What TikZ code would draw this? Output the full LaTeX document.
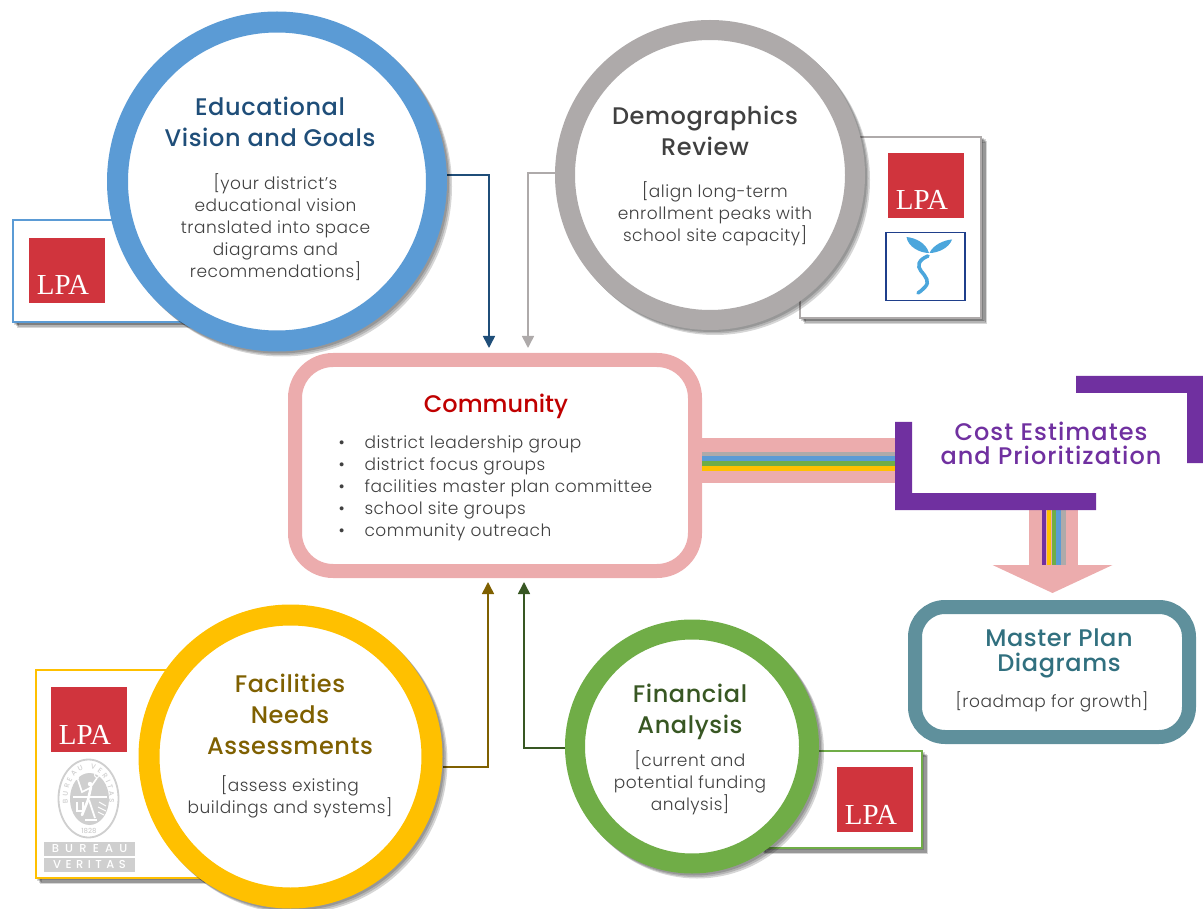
\documentclass[tikz,border=0pt]{standalone}
\usepackage{fontspec}
\setmainfont{Poppins Light}[LetterSpace=3]
\newfontfamily\headfont{Poppins Medium}[LetterSpace=2.5]
\newfontfamily\plainheadfont{Poppins Medium}
\newfontfamily\costfont{Poppins Medium}[LetterSpace=4.4]
\newfontfamily\logofont{Liberation Serif}
\usetikzlibrary{arrows.meta,shadows,shapes.geometric,decorations.text}
\definecolor{ringblue}{HTML}{5B9BD5}
\definecolor{ringgray}{HTML}{AEAAAA}
\definecolor{ringyellow}{HTML}{FFC000}
\definecolor{ringgreen}{HTML}{70AD47}
\definecolor{ringpink}{HTML}{ECACAD}
\definecolor{ringteal}{HTML}{5F909C}
\definecolor{headblue}{HTML}{1F4E79}
\definecolor{headgray}{HTML}{404040}
\definecolor{headyellow}{HTML}{7F6000}
\definecolor{headgreen}{HTML}{385723}
\definecolor{headred}{HTML}{C00000}
\definecolor{headteal}{HTML}{31707F}
\definecolor{costpurple}{HTML}{7030A0}
\definecolor{lpared}{HTML}{D0343D}
\definecolor{sproutblue}{HTML}{4BA6DC}
\definecolor{sproutbox}{HTML}{1F3F8B}
\definecolor{sealgray}{HTML}{CFCFCF}
\tikzset{
  softshadow/.style={
    drop shadow={shadow xshift=5pt,shadow yshift=-5pt,draw=black,fill=black,opacity=.16},
    drop shadow={shadow xshift=3.5pt,shadow yshift=-3.5pt,draw=black,fill=black,opacity=.16},
    drop shadow={shadow xshift=2pt,shadow yshift=-2pt,draw=black,fill=black,opacity=.16}},
  ring/.style={circle,fill=white,line width=21pt,outer sep=0pt,inner sep=0pt,softshadow},
  card/.style={rectangle,fill=white,line width=2pt,outer sep=0pt,inner sep=0pt,softshadow},
  panel/.style={rectangle,rounded corners=#1,fill=white,line width=14pt,outer sep=0pt,inner sep=0pt},
  headtext/.style={align=center,font=\headfont\fontsize{24}{31}\selectfont},
  bodytext/.style={align=center,text=headgray,font=\fontsize{17}{22}\selectfont},
  lpabox/.style={rectangle,fill=lpared,text=white,minimum width=76pt,inner sep=0pt,outer sep=0pt,
    text height=57pt,text depth=8pt,font=\logofont\fontsize{29}{29}\selectfont,execute at end node={\kern8pt}},
  feed/.style={line width=1.5pt,-{Triangle[width=12pt,length=12pt]}},
  pipe/.style={line width=#1,ringpink},
  stripe/.style={line width=5pt},
  vstripe/.style={line width=4.8pt},
  bureaubar/.style={rectangle,fill=sealgray,text=white,minimum width=91pt,minimum height=14pt,inner sep=0pt,
    font=\plainheadfont\fontsize{11.5}{11.5}\selectfont}
}
\begin{document}
\begin{tikzpicture}[x=1pt,y=-1pt]
\useasboundingbox (0,0) rectangle (1203,909);

\node[card,draw=ringblue,minimum width=190pt,minimum height=102pt] (visioncard) at (108,271) {};
\node[card,draw=ringgray,minimum width=181pt,minimum height=181pt] (democard) at (890.5,227.5) {};
\node[card,draw=ringyellow,minimum width=164pt,minimum height=208pt] (needscard) at (118,774) {};
\node[card,draw=ringgreen,minimum width=162pt,minimum height=97pt] (financecard) at (841,799.5) {};

\node[lpabox] (lpavision) at (67,270.5) {LPA};
\node[lpabox] (lpademo) at (926,185.5) {LPA};
\node[lpabox] (lpaneeds) at (89,719.5) {LPA};
\node[lpabox] (lpafinance) at (875,799.5) {LPA};

\node[rectangle,draw=sproutbox,line width=1.6pt,minimum width=79pt,minimum height=68pt,outer sep=0pt] (sproutlogo) at (925.5,266.5) {};
\fill[sproutblue] (929,253) .. controls (920,253) and (908,247) .. (906.5,237) .. controls (916,238) and (926,243) .. (929,253);
\fill[sproutblue] (929.5,253) .. controls (933,245) and (944,240) .. (952,239.5) .. controls (949,248) and (938,253) .. (929.5,253);
\draw[sproutblue,line width=3.6pt,line cap=round] (928,256) .. controls (918,260) and (917,266) .. (921,271) .. controls (926,277) and (930,282) .. (925,287) .. controls (922,290) and (920,292) .. (918,293);

\node[ellipse,draw=sealgray,line width=1.8pt,minimum width=60pt,minimum height=78pt,inner sep=0pt] (sealrim) at (88.5,798.5) {};
\node[ellipse,fill=sealgray,minimum width=39pt,minimum height=52pt,inner sep=0pt] (sealcore) at (89.5,799) {};
\draw[white,line width=1.2pt] (73,797) -- (107,797);
\draw[white,line width=2.6pt,line cap=round] (91,787) -- (88,800) -- (82,815);
\draw[white,line width=1.6pt,line cap=round] (78,780) -- (82,792) -- (90,788) -- (97,778);
\draw[white,line width=1.8pt] (89,800) -- (95,818);
\draw[white,line width=1pt] (97,775) circle (2.5pt);
\fill[white] (90,784) circle (2.2pt);
\fill[white] (77,778) circle (2pt);
\draw[white,line width=1.6pt] (77,802) -- (77,811) -- (83,811) -- (83,802);
\draw[white,line width=1pt] (99,802) -- (106,806) (98,807) -- (106,811) (98,812) -- (104,815);
\draw[white,line width=1.4pt] (85,820) -- (97,820);
\path[decorate,decoration={text along path,text align={fit to path},text color=sealgray,
  text={|\plainheadfont\fontsize{7}{7}\selectfont|BUREAU VERITAS}}]
  (68,803) .. controls (66,785) and (75,769) .. (88.5,769) .. controls (102,769) and (111,785) .. (109,803);
\node[text=sealgray,font=\plainheadfont\fontsize{7}{7}\selectfont,inner sep=0pt] (sealyear) at (89,831) {1828};

\node[bureaubar] (bureautop) at (89.5,849) {B\hspace{6.2pt}U\hspace{6.2pt}R\hspace{6.2pt}E\hspace{6.2pt}A\hspace{6.2pt}U};
\node[bureaubar] (bureaubottom) at (89.5,864.5) {V\hspace{4.5pt}E\hspace{4.5pt}R\hspace{4.5pt}I\hspace{4.5pt}T\hspace{4.5pt}A\hspace{4.5pt}S};

\coordinate (visionend) at (489,348);
\coordinate (demoend) at (528,348);
\coordinate (needsend) at (488,582);
\coordinate (financeend) at (524,582);

\draw[feed,headblue] (447,175) -| (visionend);
\draw[feed,ringgray] (555,173) -| (demoend);
\draw[feed,headyellow] (443,767) -| (needsend);
\draw[feed,headgreen] (565,748) -| (financeend);

\node[ring,draw=ringblue,minimum size=319pt] (vision) at (277,181.5) {};
\node[ring,draw=ringgray,line width=20pt,minimum size=290pt] (demo) at (710,175) {};
\node[ring,draw=ringyellow,minimum size=283pt] (needs) at (290.5,756.5) {};
\node[ring,draw=ringgreen,line width=20pt,minimum size=234pt] (finance) at (692,746.5) {};

\node[panel=38pt,draw=ringpink,minimum width=400pt,minimum height=211pt] (community) at (495,465.5) {};
\node[panel=30pt,draw=ringteal,minimum width=274pt,minimum height=130pt] (masterplan) at (1052,672) {};

\coordinate (pipeend) at (895,460.5);
\coordinate (pipedown) at (1053.5,565);
\draw[pipe=45pt] (community.east |- pipeend) -- (pipeend);
\draw[pipe=48.5pt] (1053.5,510) -- (pipedown);
\fill[ringpink] (992.5,565) -- (1112.5,565) -- (1052.5,593) -- cycle;

\draw[stripe,ringgray] (702,454) -- (895,454);
\draw[stripe,ringblue] (702,458.5) -- (895,458.5);
\draw[stripe,ringgreen] (702,463.5) -- (895,463.5);
\draw[stripe,ringyellow] (702,468.5) -- (895,468.5);

\draw[vstripe,costpurple] (1044,510) -- (1044,565);
\draw[vstripe,ringyellow] (1049,510) -- (1049,565);
\draw[vstripe,ringgreen] (1054,510) -- (1054,565);
\draw[vstripe,ringblue] (1058.7,510) -- (1058.7,565);
\draw[vstripe,ringgray] (1063.4,510) -- (1063.4,565);

\fill[costpurple] (895,422) -- (912,422) -- (912,493) -- (1096,493) -- (1096,510) -- (895,510) -- cycle;
\fill[costpurple] (1076,376) -- (1203,376) -- (1203,463) -- (1187,463) -- (1187,393) -- (1076,393) -- cycle;

\node[headtext,text=headblue] (visionhead) at (270,122) {Educational\\Vision and Goals};
\node[bodytext] (visionbody) at (275.5,227) {[your district's\\educational vision\\translated into space\\diagrams and\\recommendations]};
\node[headtext,text=headgray] (demohead) at (705,131) {Demographics\\Review};
\node[bodytext] (demobody) at (715,214) {[align long-term\\enrollment peaks with\\school site capacity]};
\node[headtext,text=headyellow] (needshead) at (290,714) {Facilities\\Needs\\Assessments};
\node[bodytext] (needsbody) at (290,797) {[assess existing\\buildings and systems]};
\node[headtext,text=headgreen] (financehead) at (690,712) {Financial\\Analysis};
\node[bodytext] (financebody) at (690,783) {[current and\\potential funding\\analysis]};
\node[headtext,text=headred,font=\plainheadfont\fontsize{24}{31}\selectfont] (communityhead) at (496,406) {Community};
\node[bodytext,align=left,anchor=west] (communitybody) at (335,488) {\makebox[26pt][l]{\textbullet}district leadership group\\\makebox[26pt][l]{\textbullet}district focus groups\\\makebox[26pt][l]{\textbullet}facilities master plan committee\\\makebox[26pt][l]{\textbullet}school site groups\\\makebox[26pt][l]{\textbullet}community outreach};
\node[headtext,text=headteal,font=\headfont\fontsize{24}{25}\selectfont] (masterhead) at (1059,653.5) {Master Plan\\Diagrams};
\node[bodytext] (masterbody) at (1052,702) {[roadmap for growth]};
\node[headtext,text=costpurple,font=\costfont\fontsize{24}{24}\selectfont] (costhead) at (1051,443) {Cost Estimates\\and Prioritization};
\end{tikzpicture}
\end{document}
